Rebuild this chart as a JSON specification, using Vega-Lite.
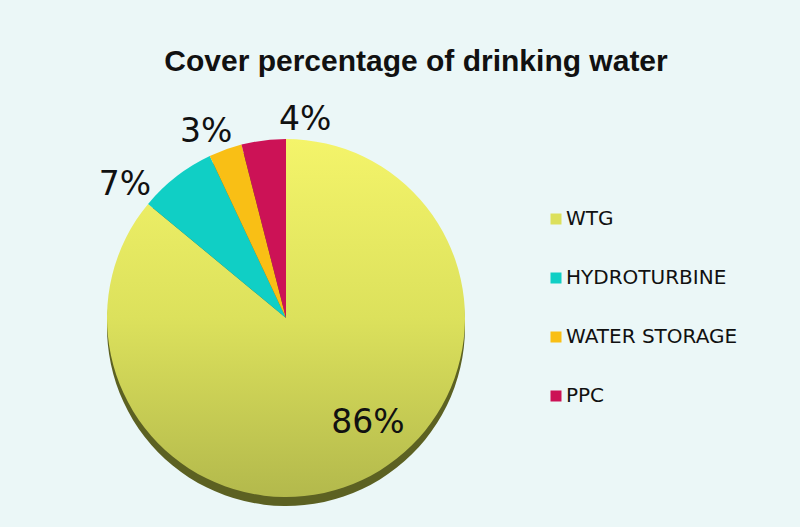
{
  "$schema": "https://vega.github.io/schema/vega-lite/v6.json",
  "autosize": "none",
  "width": 368,
  "height": 352,
  "padding": {"left": 102, "top": 142, "right": 330, "bottom": 33},
  "background": "#EBF7F7",
  "config": {"view": {"stroke": null}},
  "title": {
    "text": "Cover percentage of drinking water",
    "font": "Liberation Sans",
    "fontSize": 30,
    "fontWeight": "bold",
    "color": "#111111",
    "anchor": "middle",
    "frame": "group",
    "dx": 130,
    "offset": 27
  },
  "data": {
    "values": [
      {"category": "WTG", "value": 86, "label": "86%"},
      {"category": "HYDROTURBINE", "value": 7, "label": "7%"},
      {"category": "WATER STORAGE", "value": 3, "label": "3%"},
      {"category": "PPC", "value": 4, "label": "4%"}
    ]
  },
  "transform": [
    {"window": [{"op": "row_number", "as": "idx"}]}
  ],
  "encoding": {
    "theta": {"field": "value", "type": "quantitative", "stack": true},
    "order": {"field": "idx", "type": "quantitative"}
  },
  "layer": [
    {
      "mark": {"type": "arc", "outerRadius": 179, "yOffset": 9, "color": "#5C6122"},
      "encoding": {
        "detail": {"field": "category"}
      }
    },
    {
      "mark": {"type": "arc", "outerRadius": 179, "strokeWidth": 0},
      "encoding": {
        "fill": {
          "condition": {
            "test": "datum.category === 'WTG'",
            "value": {
              "gradient": "linear",
              "x1": 0, "y1": 0, "x2": 0, "y2": 1,
              "stops": [
                {"offset": 0, "color": "#F4F46A"},
                {"offset": 0.5, "color": "#DCE15C"},
                {"offset": 1, "color": "#B3B94C"}
              ]
            }
          },
          "field": "category",
          "type": "nominal",
          "sort": ["WTG", "HYDROTURBINE", "WATER STORAGE", "PPC"],
          "scale": {
            "domain": ["WTG", "HYDROTURBINE", "WATER STORAGE", "PPC"],
            "range": ["#DCE05C", "#10CFC5", "#F9BF15", "#CC1256"]
          },
          "legend": {
            "title": null,
            "orient": "none",
            "legendX": 444,
            "legendY": 67,
            "symbolType": "square",
            "symbolSize": 121,
            "symbolStrokeWidth": 0,
            "symbolOpacity": 1,
            "labelFont": "DejaVu Sans",
            "labelFontSize": 20,
            "labelColor": "#111111",
            "labelOffset": 0,
            "rowPadding": 39,
            "labelLimit": 300
          }
        }
      }
    },
    {
      "mark": {"type": "text", "font": "DejaVu Sans", "fontSize": 33, "color": "#111111", "radius": 133, "thetaOffset": -0.223},
      "encoding": {
        "text": {"condition": {"test": "datum.category === 'WTG'", "field": "label"}, "value": ""},
        "detail": {"field": "category"}
      }
    },
    {
      "mark": {"type": "text", "font": "DejaVu Sans", "fontSize": 33, "color": "#111111", "radius": 209, "thetaOffset": -0.22},
      "encoding": {
        "text": {"condition": {"test": "datum.category === 'HYDROTURBINE'", "field": "label"}, "value": ""},
        "detail": {"field": "category"}
      }
    },
    {
      "mark": {"type": "text", "font": "DejaVu Sans", "fontSize": 33, "color": "#111111", "radius": 202, "thetaOffset": -0.061},
      "encoding": {
        "text": {"condition": {"test": "datum.category === 'WATER STORAGE'", "field": "label"}, "value": ""},
        "detail": {"field": "category"}
      }
    },
    {
      "mark": {"type": "text", "font": "DejaVu Sans", "fontSize": 33, "color": "#111111", "radius": 199, "thetaOffset": 0.222},
      "encoding": {
        "text": {"condition": {"test": "datum.category === 'PPC'", "field": "label"}, "value": ""},
        "detail": {"field": "category"}
      }
    }
  ]
}
